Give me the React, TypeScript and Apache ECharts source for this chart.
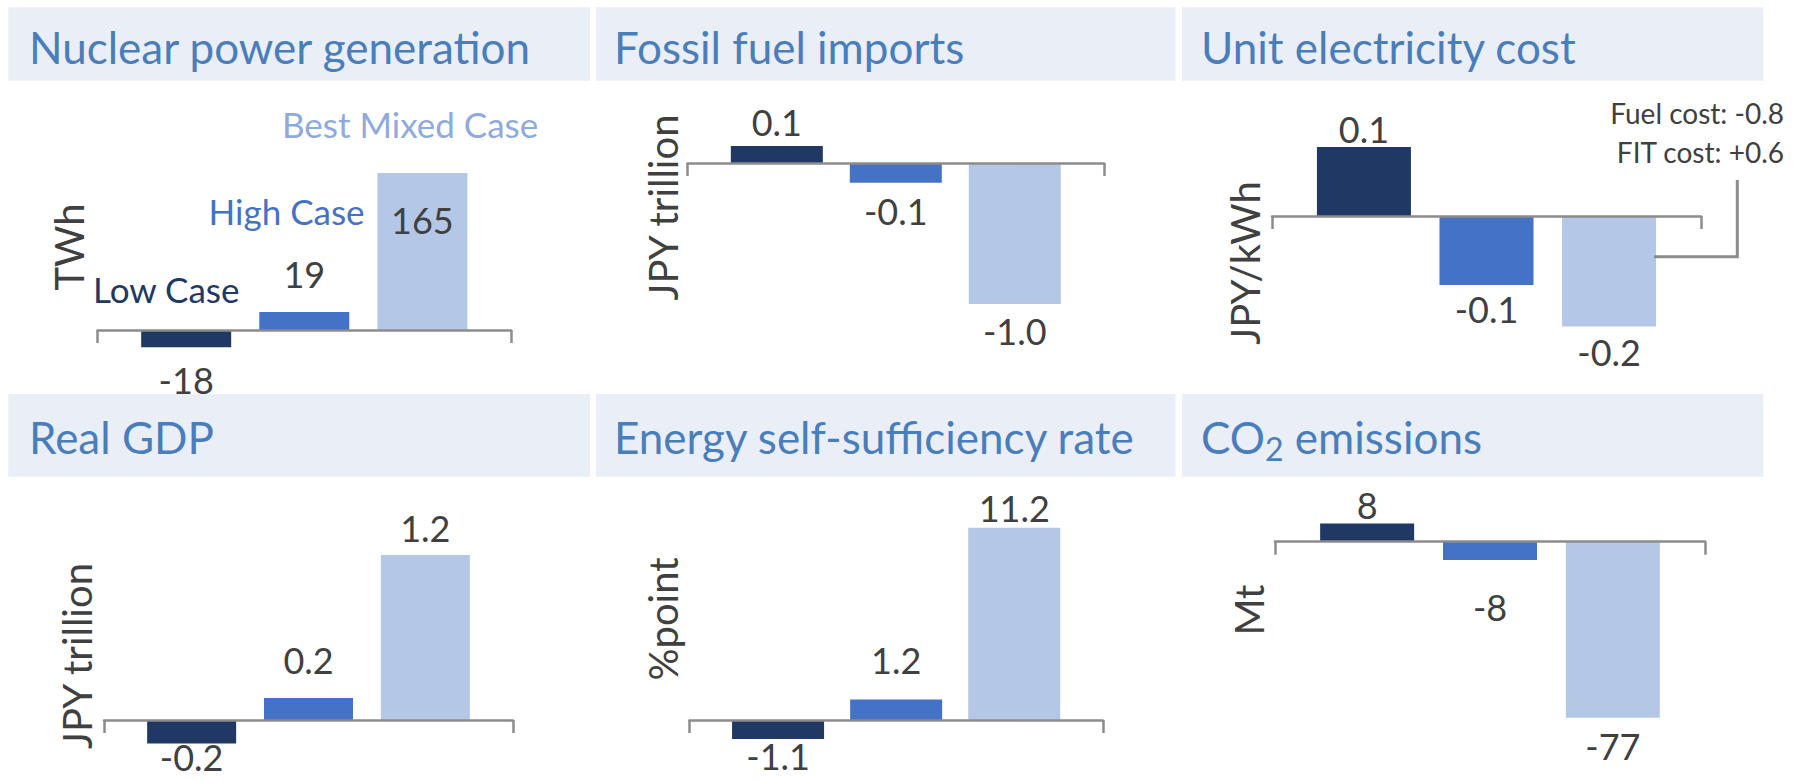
import React, { useEffect, useRef } from 'react';
import * as echarts from 'echarts';

// ---------- data ----------
const caseNames = ['Low Case', 'High Case', 'Best Mixed Case'];
const panelTitles = [
  'Nuclear power generation',
  'Fossil fuel imports',
  'Unit electricity cost',
  'Real GDP',
  'Energy self-sufficiency rate',
  'CO2 emissions',
];
const panelUnits = ['TWh', 'JPY trillion', 'JPY/kWh', 'JPY trillion', '%point', 'Mt'];

const nuclearValues = [-18, 19, 165];
const fossilValues = [0.12, -0.14, -1.0];
const unitCostValues = [0.1, -0.1, -0.16];
const gdpValues = [-0.17, 0.16, 1.2];
const selfSufficiencyValues = [-1.1, 1.2, 11.2];
const co2Values = [8, -8, -77];
const panelDecimals = [0, 1, 1, 1, 1, 0];
const unitCostNotes = ['Fuel cost: -0.8', 'FIT cost: +0.6'];

const panelValues = [nuclearValues, fossilValues, unitCostValues, gdpValues, selfSufficiencyValues, co2Values];

// ---------- styles / layout ----------
const CASE_COLORS = ['#203864', '#4472C4', '#B4C7E7'];
const LEGEND_COLORS = ['#203864', '#4472C4', '#8FAADC'];
const TITLE_BOX = '#EAEFF7';
const TITLE_COLOR = '#4A7EBB';
const TEXT_DARK = '#404040';
const AXIS_GRAY = '#8C8C8C';
const FONT = 'Lato, "Noto Sans", sans-serif';

const GEOM = [
  { left: 97.6, right: 511, zeroY: 330, ppu: 0.952, min: -20, max: 170, barWidth: 90 },
  { left: 687.6, right: 1104, zeroY: 163, ppu: 141, min: -1.1, max: 0.2, barWidth: 92 },
  { left: 1272, right: 1701, zeroY: 216, ppu: 690, min: -0.2, max: 0.12, barWidth: 94 },
  { left: 104, right: 513, zeroY: 720, ppu: 137.5, min: -0.2, max: 1.3, barWidth: 89 },
  { left: 689.5, right: 1102.8, zeroY: 720, ppu: 17.17, min: -1.5, max: 12, barWidth: 92 },
  { left: 1275, right: 1705, zeroY: 541.7, ppu: 2.286, min: -80, max: 10, barWidth: 94 },
];

// [position, gap between bar end and label glyph-box]
const LABEL_PLACEMENT: [string, number][][] = [
  [['bottom', 18], ['top', 22.5], ['insideTop', 32]],
  [['top', 9.5], ['bottom', 13], ['bottom', 12]],
  [['top', 3], ['bottom', 9], ['bottom', 10.5]],
  [['bottom', -1], ['top', 23.5], ['top', 12]],
  [['bottom', 2], ['top', 24], ['top', 4.5]],
  [['top', 3.5], ['bottom', 32], ['bottom', 13.5]],
];

const COLS = [[8.3, 590], [596, 1175.5], [1182, 1763.3]];
const ROWS = [[7.3, 80.7], [394, 476.7]];
const TITLE_X = [29, 614, 1201];
const TITLE_Y = [47, 436.7];
const UNIT_POS = [[69, 247], [662.7, 207.5], [1245, 263], [76.5, 656], [662.7, 619], [1249, 610]];
const LEGEND_POS = [[93, 288.5], [208.6, 210.5], [282, 123.5]];

const TITLE_SIZE = 44;
const LABEL_SIZE = 36;
const LABEL_LINE = 30;
const UNIT_SIZE = 40;
const LEGEND_SIZE = 35;
const NOTE_SIZE = 28;

function buildOption() {
  const grid: any[] = [];
  const xAxis: any[] = [];
  const yAxis: any[] = [];
  const series: any[] = [];

  GEOM.forEach((g, i) => {
    grid.push({
      left: g.left,
      top: g.zeroY - g.max * g.ppu,
      width: g.right - g.left,
      height: (g.max - g.min) * g.ppu,
      containLabel: false,
    });
    const slots: string[] = [];
    caseNames.forEach((c) => { slots.push('', c); });
    slots.push('');
    xAxis.push({
      type: 'category',
      gridIndex: i,
      data: slots,
      boundaryGap: true,
      axisLabel: { show: false },
      axisLine: { show: true, onZero: true, lineStyle: { color: AXIS_GRAY, width: 2.5 } },
      axisTick: { show: true, interval: (idx: number) => idx === 0, length: 13, lineStyle: { color: AXIS_GRAY, width: 2.5 } },
      splitLine: { show: false },
      z: 5,
    });
    yAxis.push({
      type: 'value',
      gridIndex: i,
      min: g.min,
      max: g.max,
      show: false,
      splitLine: { show: false },
    });
    const data: any[] = [];
    panelValues[i].forEach((v, k) => {
      const [pos, dist] = LABEL_PLACEMENT[i][k];
      data.push('-');
      data.push({
        value: v,
        itemStyle: { color: CASE_COLORS[k] },
        label: { position: pos, distance: dist },
      });
    });
    data.push('-');
    const dec = panelDecimals[i];
    series.push({
      type: 'bar',
      xAxisIndex: i,
      yAxisIndex: i,
      barWidth: g.barWidth,
      data,
      z: 2,
      label: {
        show: true,
        fontFamily: FONT,
        fontSize: LABEL_SIZE,
        lineHeight: LABEL_LINE,
        color: TEXT_DARK,
        formatter: (p: any) => Number(p.value).toFixed(dec),
      },
    });
  });

  const graphic: any[] = [];
  panelTitles.forEach((t, i) => {
    const col = i % 3;
    const row = Math.floor(i / 3);
    graphic.push({
      type: 'rect',
      z: 0,
      shape: { x: COLS[col][0], y: ROWS[row][0], width: COLS[col][1] - COLS[col][0], height: ROWS[row][1] - ROWS[row][0] },
      style: { fill: TITLE_BOX },
    });
    if (t === 'CO2 emissions') {
      graphic.push({
        type: 'text',
        z: 10,
        x: TITLE_X[col],
        y: TITLE_Y[row],
        style: {
          text: '{m|CO}{s|2}{m| emissions}',
          verticalAlign: 'middle',
          align: 'left',
          rich: {
            m: { fontSize: TITLE_SIZE, fontFamily: FONT, fill: TITLE_COLOR, lineHeight: 56 },
            s: { fontSize: 32, fontFamily: FONT, fill: TITLE_COLOR, lineHeight: 22, verticalAlign: 'bottom' },
          },
        },
      });
    } else {
      graphic.push({
        type: 'text',
        z: 10,
        x: TITLE_X[col],
        y: TITLE_Y[row],
        style: { text: t, fill: TITLE_COLOR, fontSize: TITLE_SIZE, fontFamily: FONT, align: 'left', verticalAlign: 'middle' },
      });
    }
    graphic.push({
      type: 'text',
      z: 10,
      x: UNIT_POS[i][0],
      y: UNIT_POS[i][1],
      rotation: Math.PI / 2,
      style: { text: panelUnits[i], fill: TEXT_DARK, fontSize: UNIT_SIZE, fontFamily: FONT, align: 'center', verticalAlign: 'middle' },
    });
  });
  caseNames.forEach((c, k) => {
    graphic.push({
      type: 'text',
      z: 10,
      x: LEGEND_POS[k][0],
      y: LEGEND_POS[k][1],
      style: { text: c, fill: LEGEND_COLORS[k], fontSize: LEGEND_SIZE, fontFamily: FONT, align: 'left', verticalAlign: 'middle' },
    });
  });
  unitCostNotes.forEach((n, k) => {
    graphic.push({
      type: 'text',
      z: 10,
      x: 1784,
      y: k === 0 ? 113 : 151.5,
      style: { text: n, fill: TEXT_DARK, fontSize: NOTE_SIZE, fontFamily: FONT, align: 'right', verticalAlign: 'middle' },
    });
  });
  graphic.push({
    type: 'polyline',
    z: 10,
    shape: { points: [[1737.3, 180], [1737.3, 256.7], [1654, 256.7]] },
    style: { stroke: AXIS_GRAY, lineWidth: 3, fill: 'none' },
  });

  return {
    animation: false,
    backgroundColor: '#ffffff',
    textStyle: { fontFamily: FONT },
    grid,
    xAxis,
    yAxis,
    series,
    graphic,
  };
}

export default function App() {
  const ref = useRef<HTMLDivElement>(null);
  useEffect(() => {
    if (!ref.current) return;
    const chart = echarts.init(ref.current, undefined, { renderer: 'svg', width: 1800, height: 780 });
    chart.setOption(buildOption() as any);
    return () => chart.dispose();
  }, []);
  return (
    <div
      ref={ref}
      style={{ position: 'absolute', left: 0, top: 0, width: 1800, height: 780, background: '#fff' }}
    />
  );
}
